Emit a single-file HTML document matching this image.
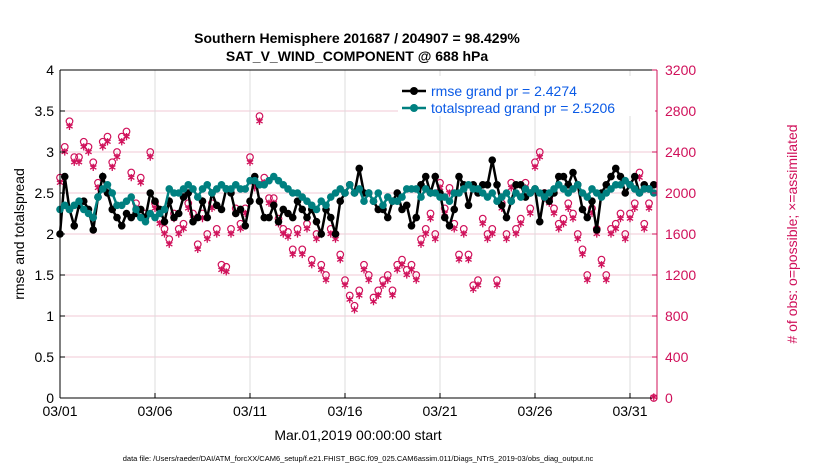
<!DOCTYPE html>
<html><head><meta charset="utf-8"><style>
body{margin:0;background:#fff;font-family:"Liberation Sans",sans-serif;}
svg text{font-family:"Liberation Sans",sans-serif;}
</style></head><body>
<svg id="c" width="830" height="470" xmlns="http://www.w3.org/2000/svg">
<rect width="830" height="470" fill="#fff"/>
<text x="357" y="43" text-anchor="middle" font-size="14" font-weight="bold">Southern Hemisphere 201687 / 204907 = 98.429%</text>
<text x="357" y="61" text-anchor="middle" font-size="14" font-weight="bold">SAT_V_WIND_COMPONENT @ 688 hPa</text>
<g id="grid"></g><g id="obs"></g><g id="lines"></g><g id="axes"></g>
<text transform="translate(24,234) rotate(-90)" text-anchor="middle" font-size="14">rmse and totalspread</text>
<text transform="translate(797,234) rotate(-90)" text-anchor="middle" font-size="14" fill="#d0105a"># of obs: o=possible; ×=assimilated</text>
<text x="358" y="440" text-anchor="middle" font-size="14">Mar.01,2019 00:00:00 start</text>
<text x="358" y="461" text-anchor="middle" font-size="7.5">data file: /Users/raeder/DAI/ATM_forcXX/CAM6_setup/f.e21.FHIST_BGC.f09_025.CAM6assim.011/Diags_NTrS_2019-03/obs_diag_output.nc</text>
<g>
<rect x="398" y="76" width="257" height="40" fill="#fff"/>
<line x1="402" y1="91" x2="426" y2="91" stroke="#000" stroke-width="2.5"/><circle cx="414" cy="91" r="4" fill="#000"/>
<text x="431" y="96" font-size="14" fill="#0a5ae6">rmse grand pr = 2.4274</text>
<line x1="402" y1="108" x2="426" y2="108" stroke="#008080" stroke-width="2.5"/><circle cx="414" cy="108" r="4" fill="#008080"/>
<text x="431" y="113" font-size="14" fill="#0a5ae6">totalspread grand pr = 2.5206</text>
</g>
</svg>
<script>
const rmse=[2.0,2.7,2.3,2.1, 2.35,2.4,2.3,2.05, 2.45,2.7,2.5,2.3, 2.2,2.1,2.25,2.2, 2.25,2.3,2.2,2.5, 2.4,2.3,2.15,2.4, 2.2,2.25,2.45,2.5, 2.15,2.2,2.4,2.2, 2.5,2.35,2.3,2.55, 2.5,2.25,2.3,2.1, 2.4,2.7,2.4,2.2, 2.2,2.35,2.15,2.3, 2.25,2.2,2.4,2.3, 2.2,2.3,2.15,2.0, 2.3,2.2,2.0,2.4, 2.5,2.6,2.5,2.8, 2.5,2.5,2.4,2.3, 2.3,2.2,2.4,2.5, 2.3,2.35,2.1,2.2, 2.6,2.7,2.5,2.7, 2.5,2.2,2.1,2.3, 2.7,2.6,2.35,2.6, 2.5,2.6,2.6,2.9, 2.6,2.35,2.2,2.4, 2.6,2.6,2.45,2.5, 2.55,2.15,2.5,2.4, 2.5,2.7,2.7,2.6, 2.75,2.6,2.3,2.2, 2.4,2.05,2.5,2.6, 2.7,2.8,2.7,2.5, 2.6,2.7,2.5,2.6, 2.55,2.6];
const spread=[2.3,2.35,2.3,2.35, 2.4,2.3,2.25,2.2, 2.45,2.55,2.6,2.5, 2.35,2.35,2.4,2.45, 2.3,2.2,2.15,2.25, 2.2,2.25,2.3,2.55, 2.5,2.5,2.55,2.6, 2.55,2.45,2.55,2.6, 2.5,2.55,2.6,2.55, 2.55,2.6,2.55,2.55, 2.65,2.65,2.6,2.6, 2.65,2.7,2.65,2.6, 2.55,2.5,2.5,2.45, 2.4,2.35,2.3,2.4, 2.35,2.45,2.5,2.55, 2.5,2.6,2.5,2.55, 2.4,2.5,2.4,2.5, 2.35,2.45,2.4,2.4, 2.45,2.55,2.55,2.55, 2.45,2.55,2.5,2.5, 2.45,2.45,2.4,2.5, 2.5,2.55,2.6,2.55, 2.55,2.5,2.45,2.5, 2.4,2.45,2.5,2.4, 2.5,2.45,2.55,2.5, 2.55,2.5,2.45,2.5, 2.55,2.6,2.55,2.5, 2.55,2.6,2.5,2.45, 2.55,2.5,2.45,2.5, 2.55,2.6,2.6,2.65, 2.6,2.55,2.5,2.55, 2.55,2.5];
const possible=[2150,2450,2700,2350, 2350,2500,2450,2300, 2100,2500,2550,2300, 2400,2550,2600,2200, 1900,2150,1800,2400, 1900,1750,1650,1550, 1800,1650,1700,1900, 1800,1500,1800,1600, 1900,1650,1300,1280, 1650,1850,1700,1850, 2350,2100,2750,2150, 1950,1950,1750,1650, 1620,1450,1650,1450, 1700,1350,1600,1300, 1200,1650,1600,1400, 1150,1000,900,1050, 1300,1200,980,1050, 1150,1200,1050,1300, 1350,1250,1300,1200, 1550,1650,1800,1600, 2100,1850,2050,1700, 1400,1650,1400,1100, 1150,1750,1600,1650, 1150,1900,1600,2100, 1650,1750,2100,1850, 2300,2400,2000,1950, 1850,1700,1750,1900, 1800,1600,1450,1200, 1850,1650,1350,1200, 1650,1700,1800,1600, 1800,1900,2200,1700, 1900,0];
const assimilated=[2090,2390,2640,2290, 2290,2440,2390,2240, 2040,2440,2490,2240, 2340,2490,2540,2140, 1840,2090,1740,2340, 1840,1690,1590,1490, 1740,1590,1640,1840, 1740,1440,1740,1540, 1840,1590,1240,1220, 1590,1790,1640,1790, 2290,2040,2690,2090, 1890,1890,1690,1590, 1560,1390,1590,1390, 1640,1290,1540,1240, 1140,1590,1540,1340, 1090,950,850,990, 1240,1140,930,990, 1090,1140,990,1240, 1290,1190,1240,1140, 1490,1590,1740,1540, 2040,1790,1990,1640, 1340,1590,1340,1050, 1090,1690,1540,1590, 1090,1840,1540,2040, 1590,1690,2040,1790, 2240,2340,1940,1890, 1790,1640,1690,1840, 1740,1540,1390,1140, 1790,1590,1290,1140, 1590,1640,1740,1540, 1740,1840,2140,1640, 1840,0];
const leftTicks=[0,0.5,1,1.5,2,2.5,3,3.5,4];
const rightTicks=[0,400,800,1200,1600,2000,2400,2800,3200];
const dateTicks=[0,5,10,15,20,25,30];
const dateLabels=["03/01","03/06","03/11","03/16","03/21","03/26","03/31"];
const X0=60,X1=657,YT=70,YB=398,DAY=19;
const xs=d=>X0+d*DAY, yl=v=>YB-(v/4)*(YB-YT), yr=v=>YB-(v/3200)*(YB-YT);
const NS="http://www.w3.org/2000/svg";
function mk(p,t,a){const e=document.createElementNS(NS,t);for(const k in a)e.setAttribute(k,a[k]);p.appendChild(e);return e;}
const grid=document.getElementById('grid'),axes=document.getElementById('axes'),obs=document.getElementById('obs'),lines=document.getElementById('lines');
rightTicks.forEach((t,i)=>{if(i>0&&i<rightTicks.length-1){const g=mk(grid,'line',{x1:X0,x2:X1,y1:yr(t),y2:yr(t),stroke:'#f2c8d6','stroke-width':1});

}});
dateTicks.forEach((d,i)=>{const g=mk(grid,'line',{x1:xs(d),x2:xs(d),y1:YT,y2:YB,stroke:'#dcdcdc','stroke-width':1});


const t=mk(axes,'text',{x:xs(d),y:416,'text-anchor':'middle','font-size':14});t.textContent=dateLabels[i];


mk(axes,'line',{x1:xs(d),x2:xs(d),y1:YB,y2:YB-5,stroke:'#000'});});
mk(axes,'line',{x1:X0,x2:X1,y1:YT,y2:YT,stroke:'#000'});
mk(axes,'line',{x1:X0,x2:X1,y1:YB,y2:YB,stroke:'#000'});
mk(axes,'line',{x1:X0,x2:X0,y1:YT,y2:YB,stroke:'#000'});
mk(axes,'line',{x1:X1,x2:X1,y1:YT,y2:YB,stroke:'#d0105a'});
leftTicks.forEach(t=>{mk(axes,'line',{x1:X0,x2:X0+5,y1:yl(t),y2:yl(t),stroke:'#000'});
const e=mk(axes,'text',{x:X0-6,y:yl(t)+5,'text-anchor':'end','font-size':14});e.textContent=t;

});
rightTicks.forEach(t=>{mk(axes,'line',{x1:X1-5,x2:X1,y1:yr(t),y2:yr(t),stroke:'#d0105a'});
const e=mk(axes,'text',{x:X1+8,y:yr(t)+5,'font-size':14,fill:'#d0105a'});e.textContent=t;

});
const C='#d0105a';
possible.forEach((v,i)=>{const x=xs(i/4),y=yr(v);const c=mk(obs,'circle',{cx:x,cy:y,r:3.3,fill:'none',stroke:C,'stroke-width':1.2});

});
assimilated.forEach((v,i)=>{const x=xs(i/4),y=yr(v)-1,r=3.6,a=r*0.866,b=r*0.5;
const p=mk(obs,'path',{d:`M${x} ${y-r}V${y+r}M${x-a} ${y-b}L${x+a} ${y+b}M${x-a} ${y+b}L${x+a} ${y-b}`,stroke:C,'stroke-width':1.3,fill:'none'});

});
function series(arr,col,name){const p=mk(lines,'polyline',{points:arr.map((v,i)=>xs(i/4)+','+yl(v)).join(' '),fill:'none',stroke:col,'stroke-width':2.5});


arr.forEach((v,i)=>{const c=mk(lines,'circle',{cx:xs(i/4),cy:yl(v),r:3.8,fill:col});

});}
series(rmse,'#000','rmse');
series(spread,'#008080','spread');
</script>
</body></html>
